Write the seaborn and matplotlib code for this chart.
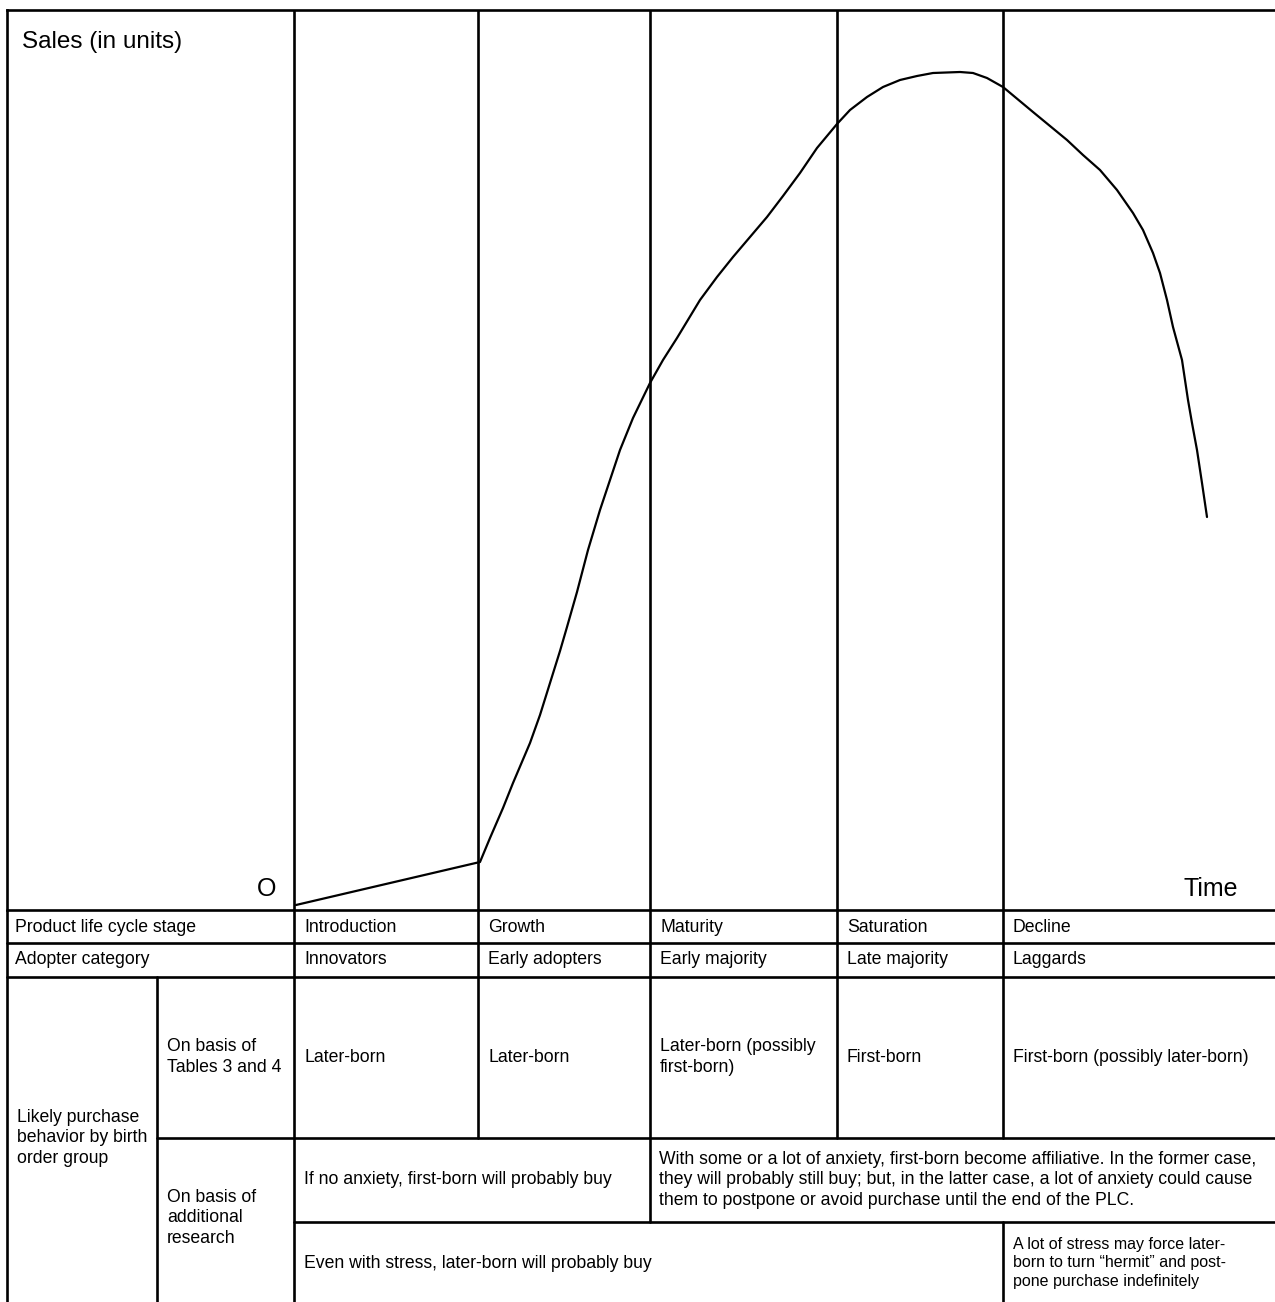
import numpy as np
import pandas as pd
import matplotlib
matplotlib.use("Agg")
import matplotlib.pyplot as plt
from matplotlib import font_manager
import seaborn as sns

# stage boundaries on the time axis (origin O at the start of Introduction)
stage_bounds = [0, 184, 356, 543, 709]
stages = ["Introduction", "Growth", "Maturity", "Saturation", "Decline"]
adopters = ["Innovators", "Early adopters", "Early majority", "Late majority", "Laggards"]
basis_tables = ["Later-born", "Later-born", "Later-born (possibly\nfirst-born)",
                "First-born", "First-born (possibly later-born)"]

# sales curve
time_vals = [2, 186, 196, 209, 219, 236, 246, 256, 266, 273, 283, 294, 306, 316,
             326, 339, 356, 369, 383, 406, 423, 439, 456, 473, 489, 506, 523, 543,
             556, 573, 589, 606, 623, 639, 666, 679, 693, 709, 739, 773, 789, 806,
             823, 839, 849, 859, 866, 873, 879, 888, 894, 898, 903, 908, 913]
sales_vals = [5, 48, 72, 102, 127, 167, 195, 227, 259, 283, 318, 360, 400, 430,
              460, 492, 527, 550, 572, 610, 633, 653, 673, 693, 714, 737, 762, 786,
              800, 813, 823, 830, 834, 837, 838, 837, 832, 823, 798, 770, 755, 740,
              720, 697, 680, 657, 637, 610, 583, 550, 510, 487, 460, 427, 393]

curve = pd.DataFrame({"time": time_vals, "sales": sales_vals})

sns.set_theme(style="white")
installed = {f.name for f in font_manager.fontManager.ttflist}
if "Liberation Sans Narrow" in installed:
    plt.rcParams['font.family'] = ['Liberation Sans Narrow', 'DejaVu Sans']
    k = 1 / 0.84
else:
    plt.rcParams['font.family'] = ['Liberation Sans', 'DejaVu Sans']
    k = 1.0
plt.rcParams['text.color'] = 'black'

W, H = 1275, 1302
fig = plt.figure(figsize=(W / 100, H / 100), dpi=100)

# overlay axes in pixel coords for the table grid and text
tab = fig.add_axes([0, 0, 1, 1])
tab.set_xlim(0, W)
tab.set_ylim(H, 0)
tab.axis("off")

# chart axes: left edge 7px, right edge 1275px, top 10px, bottom 910px
x0 = 294  # pixel position of time 0
ax = fig.add_axes([7 / W, (H - 910) / H, (W - 7) / W, 900 / H])
ax.set_xlim(7 - x0, W - x0)
ax.set_ylim(0, 900)
sns.lineplot(data=curve, x="time", y="sales", sort=False, estimator=None,
             color="black", lw=1.6, ax=ax)
for b in stage_bounds:
    ax.axvline(b, color="black", lw=1.9)
for s in ax.spines.values():
    s.set_visible(False)
for side in ["left", "top"]:
    ax.spines[side].set_visible(True)
    ax.spines[side].set_linewidth(1.9)
    ax.spines[side].set_color("black")
ax.set_xticks([])
ax.set_yticks([])
ax.set_xlabel("")
ax.set_ylabel("")
ax.patch.set_alpha(0)

tab.text(22, 42, "Sales (in units)", fontsize=17.5 * k, ha="left", va="center")
tab.text(276, 901, "O", fontsize=18 * k, ha="right", va="bottom")
tab.text(1238, 901, "Time", fontsize=18 * k, ha="right", va="bottom")

lw = 1.9
cols = [x0 + b for b in stage_bounds]  # 294, 478, 650, 837, 1003
# horizontal rules
for y in [910, 943, 977]:
    tab.plot([7, W], [y, y], color="black", lw=lw)
tab.plot([157, W], [1138, 1138], color="black", lw=lw)
tab.plot([294, W], [1222, 1222], color="black", lw=lw)
# vertical rules in the table
tab.plot([7, 7], [910, H], color="black", lw=lw)
tab.plot([157, 157], [977, H], color="black", lw=lw)
tab.plot([cols[0], cols[0]], [910, H], color="black", lw=lw)
tab.plot([cols[1], cols[1]], [910, 1138], color="black", lw=lw)
tab.plot([cols[2], cols[2]], [910, 1222], color="black", lw=lw)
tab.plot([cols[3], cols[3]], [910, 1138], color="black", lw=lw)
tab.plot([cols[4], cols[4]], [910, 1138], color="black", lw=lw)
tab.plot([cols[4], cols[4]], [1222, H], color="black", lw=lw)

fs = 12.7 * k
tab.text(15, 927, "Product life cycle stage", fontsize=fs, va="center")
tab.text(15, 960, "Adopter category", fontsize=fs, va="center")
for c, s, a, t in zip(cols, stages, adopters, basis_tables):
    tab.text(c + 10, 927, s, fontsize=fs, va="center")
    tab.text(c + 10, 960, a, fontsize=fs, va="center")
    tab.text(c + 10, 1057, t, fontsize=fs, va="center", linespacing=1.3)

tab.text(17, 1138, "Likely purchase\nbehavior by birth\norder group",
         fontsize=fs, va="center", linespacing=1.3)
tab.text(167, 1057, "On basis of\nTables 3 and 4", fontsize=fs, va="center",
         linespacing=1.3)
tab.text(167, 1218, "On basis of\nadditional\nresearch", fontsize=fs,
         va="center", linespacing=1.3)
tab.text(304, 1180, "If no anxiety, first-born will probably buy", fontsize=fs,
         va="center")
tab.text(659, 1180,
         "With some or a lot of anxiety, first-born become affiliative. In the former case,\n"
         "they will probably still buy; but, in the latter case, a lot of anxiety could cause\n"
         "them to postpone or avoid purchase until the end of the PLC.",
         fontsize=fs, va="center", linespacing=1.3)
tab.text(304, 1263, "Even with stress, later-born will probably buy", fontsize=fs,
         va="center")
tab.text(1013, 1263,
         "A lot of stress may force later-\nborn to turn \u201chermit\u201d and post-\n"
         "pone purchase indefinitely",
         fontsize=11.5 * k, va="center", linespacing=1.3)

fig.savefig("out.png", dpi=100)
